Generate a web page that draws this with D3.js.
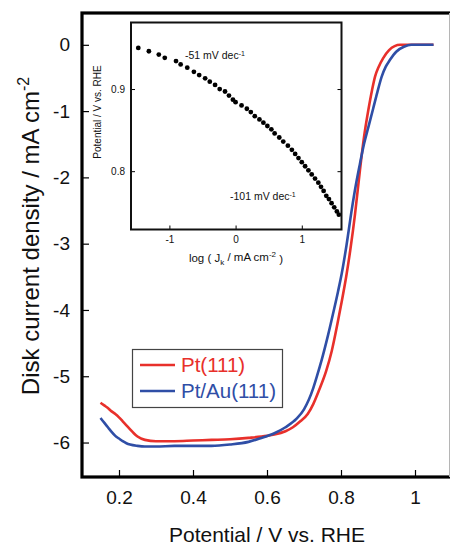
<!DOCTYPE html>
<html lang="en">
<head>
    <meta charset="UTF-8">
    <title>ORR polarization curves</title>
    <script type="text/javascript" src="https://cdn.jsdelivr.net/npm/d3@7/dist/d3.min.js"></script>
    <style type="text/css">
        body { margin: 0; background: #fff; }
        svg { display: block; font-family: "Liberation Sans", Arial, sans-serif; }
    </style>
</head>
<body>
    <script type="text/javascript">
        //Width and height
        var w = 450;
        var h = 545;

        //Pt(111) curve
        var redV = [0.15, 0.16, 0.17, 0.18, 0.19, 0.2, 0.21, 0.22, 0.23, 0.24, 0.25, 0.27, 0.3, 0.35, 0.4, 0.45,
            0.5, 0.55, 0.6, 0.62, 0.65, 0.67, 0.69, 0.71, 0.725, 0.74, 0.76, 0.775, 0.79, 0.8, 0.814, 0.825,
            0.838, 0.851, 0.862, 0.874, 0.884, 0.892, 0.902, 0.914, 0.93, 0.945, 0.96, 0.98, 1.0, 1.03, 1.05];
        var redJ = [-5.40, -5.44, -5.48, -5.53, -5.57, -5.62, -5.68, -5.74, -5.80, -5.86, -5.91, -5.96, -5.98, -5.98, -5.97, -5.96,
            -5.95, -5.93, -5.90, -5.88, -5.83, -5.77, -5.68, -5.57, -5.42, -5.22, -4.92, -4.62, -4.22, -3.93, -3.50, -3.10,
            -2.55, -1.90, -1.40, -0.98, -0.68, -0.48, -0.33, -0.20, -0.08, -0.02, 0, 0, 0, 0, 0];

        //Pt/Au(111) curve
        var blueV = [0.15, 0.16, 0.17, 0.18, 0.19, 0.2, 0.21, 0.22, 0.23, 0.25, 0.27, 0.3, 0.35, 0.4, 0.45, 0.5,
            0.55, 0.58, 0.62, 0.65, 0.68, 0.7, 0.725, 0.735, 0.748, 0.765, 0.78, 0.792, 0.802, 0.815, 0.829, 0.84,
            0.851, 0.862, 0.875, 0.887, 0.898, 0.91, 0.921, 0.932, 0.95, 0.97, 0.99, 1.01, 1.03, 1.05];
        var blueJ = [-5.63, -5.70, -5.77, -5.84, -5.90, -5.94, -5.98, -6.01, -6.03, -6.05, -6.06, -6.06, -6.05, -6.05, -6.05, -6.03,
            -5.99, -5.94, -5.86, -5.77, -5.64, -5.50, -5.18, -5.00, -4.75, -4.38, -4.02, -3.72, -3.45, -3.02, -2.49, -2.12,
            -1.80, -1.50, -1.22, -0.96, -0.72, -0.48, -0.33, -0.23, -0.10, -0.03, 0, 0, 0, 0];

        //Tafel plot (inset)
        var tafelLogJ = [-1.47, -1.31, -1.16, -1.07, -0.90, -0.83, -0.73, -0.63, -0.55, -0.46, -0.39, -0.31, -0.24,
            -0.16, -0.10, -0.04, 0.00, 0.09, 0.17, 0.23, 0.29, 0.36, 0.42, 0.48, 0.54, 0.59, 0.66, 0.72, 0.79,
            0.85, 0.90, 0.95, 1.00, 1.05, 1.10, 1.15, 1.20, 1.25, 1.29, 1.33, 1.37, 1.41, 1.45, 1.49, 1.53, 1.56];
        var tafelE = [0.950, 0.946, 0.942, 0.938, 0.934, 0.930, 0.926, 0.921, 0.917, 0.913, 0.909, 0.905, 0.900,
            0.897, 0.892, 0.887, 0.884, 0.880, 0.876, 0.872, 0.867, 0.863, 0.859, 0.855, 0.851, 0.846, 0.841, 0.836, 0.831,
            0.826, 0.821, 0.816, 0.811, 0.806, 0.801, 0.796, 0.791, 0.786, 0.781, 0.776, 0.770, 0.766, 0.761, 0.756, 0.751, 0.747];

        //Tick values
        var xTicks = [0.2, 0.4, 0.6, 0.8, 1];
        var yTicks = [0, -1, -2, -3, -4, -5, -6];
        var insetXTicks = [-1, 0, 1];
        var insetYTicks = [0.8, 0.9];

        var series = [
            { name: "Pt(111)", color: "#e8302b", v: redV, j: redJ },
            { name: "Pt/Au(111)", color: "#2f4ea6", v: blueV, j: blueJ }
        ];

        var xScale = d3.scaleLinear().domain([0.1, 1.1]).range([82, 452]);
        var yScale = d3.scaleLinear().domain([-6.52, 0.48]).range([477, 13]);

        //Create SVG element
        var svg = d3.select("body")
            .append("svg")
            .attr("width", w)
            .attr("height", h);

        //Curves
        var line = d3.line()
            .x(function(d) { return xScale(d[0]); })
            .y(function(d) { return yScale(d[1]); })
            .curve(d3.curveMonotoneX);

        svg.selectAll("path.curve")
            .data(series)
            .enter()
            .append("path")
            .attr("class", "curve")
            .attr("fill", "none")
            .attr("stroke", function(d) { return d.color; })
            .attr("stroke-width", 2.6)
            .attr("d", function(d) {
                return line(d.v.map(function(v, i) { return [v, d.j[i]]; }));
            });

        //Axes (ticks pointing inward)
        var xAxis = d3.axisBottom(xScale)
            .tickValues(xTicks)
            .tickSizeInner(-7)
            .tickSizeOuter(0)
            .tickPadding(14)
            .tickFormat(function(d) { return String(d); });

        var yAxis = d3.axisLeft(yScale)
            .tickValues(yTicks)
            .tickSizeInner(-7)
            .tickSizeOuter(0)
            .tickPadding(12)
            .tickFormat(function(d) { return String(d); });

        var gx = svg.append("g")
            .attr("transform", "translate(0," + yScale.range()[0] + ")")
            .call(xAxis);
        var gy = svg.append("g")
            .attr("transform", "translate(" + xScale.range()[0] + ",0)")
            .call(yAxis);

        [gx, gy].forEach(function(g) {
            g.select(".domain").remove();
            g.selectAll("line").attr("stroke", "#000").attr("stroke-width", 1.2);
            g.selectAll("text")
                .attr("fill", "#111")
                .style("font-family", "'Liberation Sans', Arial, sans-serif")
                .style("font-size", "19px");
        });

        //Frame
        svg.append("rect")
            .attr("x", xScale.range()[0])
            .attr("y", yScale.range()[1])
            .attr("width", xScale.range()[1] - xScale.range()[0])
            .attr("height", yScale.range()[0] - yScale.range()[1])
            .attr("fill", "none")
            .attr("stroke", "#000")
            .attr("stroke-width", 3.2);

        svg.append("line")
            .attr("x1", 449.5).attr("x2", 449.5)
            .attr("y1", yScale.range()[1]).attr("y2", yScale.range()[0])
            .attr("stroke", "#b5b5b5")
            .attr("stroke-width", 1);

        //Axis titles
        svg.append("text")
            .attr("x", 267)
            .attr("y", 542)
            .attr("text-anchor", "middle")
            .style("font-size", "21px")
            .attr("fill", "#111")
            .text("Potential / V vs. RHE");

        var yTitle = svg.append("text")
            .attr("transform", "translate(39,236) rotate(-90)")
            .attr("text-anchor", "middle")
            .style("font-size", "24px")
            .attr("fill", "#111");
        yTitle.append("tspan").text("Disk current density / mA cm");
        yTitle.append("tspan").attr("dy", "-0.6em").style("font-size", "16px").text("-2");

        //Legend
        var legend = svg.append("g");
        legend.append("rect")
            .attr("x", 132.5)
            .attr("y", 349.5)
            .attr("width", 150)
            .attr("height", 58)
            .attr("fill", "#fff")
            .attr("stroke", "#444")
            .attr("stroke-width", 1.2);

        var items = legend.selectAll("g.item")
            .data(series)
            .enter()
            .append("g")
            .attr("class", "item")
            .attr("transform", function(d, i) {
                return "translate(0," + (365 + i * 26) + ")";
            });
        items.append("line")
            .attr("x1", 140).attr("x2", 175)
            .attr("stroke", function(d) { return d.color; })
            .attr("stroke-width", 2.4);
        items.append("text")
            .attr("x", 181)
            .attr("dy", "0.36em")
            .style("font-size", "20.5px")
            .attr("fill", function(d) { return d.color; })
            .text(function(d) { return d.name; });

        //Inset
        var ix = d3.scaleLinear().domain([-1.58, 1.6]).range([131, 341.5]);
        var iy = d3.scaleLinear().domain([0.729, 0.981]).range([229.5, 22.5]);

        var inset = svg.append("g");
        inset.append("rect")
            .attr("x", ix.range()[0])
            .attr("y", iy.range()[1])
            .attr("width", ix.range()[1] - ix.range()[0])
            .attr("height", iy.range()[0] - iy.range()[1])
            .attr("fill", "#fff");

        inset.selectAll("circle")
            .data(tafelLogJ)
            .enter()
            .append("circle")
            .attr("cx", function(d) { return ix(d); })
            .attr("cy", function(d, i) { return iy(tafelE[i]); })
            .attr("r", 2.4)
            .attr("fill", "#000");

        var ixAxis = d3.axisBottom(ix).tickValues(insetXTicks).tickSizeInner(-4).tickSizeOuter(0).tickPadding(6)
            .tickFormat(function(d) { return String(d); });
        var iyAxis = d3.axisLeft(iy).tickValues(insetYTicks).tickSizeInner(-4).tickSizeOuter(0).tickPadding(6)
            .tickFormat(function(d) { return d3.format(".1f")(d); });
        var iyAxisR = d3.axisRight(iy).tickValues(insetYTicks).tickSizeInner(-4).tickSizeOuter(0)
            .tickFormat("");

        var gix = inset.append("g").attr("transform", "translate(0," + iy.range()[0] + ")").call(ixAxis);
        var giy = inset.append("g").attr("transform", "translate(" + ix.range()[0] + ",0)").call(iyAxis);
        var giyR = inset.append("g").attr("transform", "translate(" + ix.range()[1] + ",0)").call(iyAxisR);

        [gix, giy, giyR].forEach(function(g) {
            g.select(".domain").remove();
            g.selectAll("line").attr("stroke", "#000").attr("stroke-width", 1);
            g.selectAll("text")
                .attr("fill", "#111")
                .style("font-family", "'Liberation Sans', Arial, sans-serif")
                .style("font-size", "10px");
        });

        inset.append("rect")
            .attr("x", ix.range()[0])
            .attr("y", iy.range()[1])
            .attr("width", ix.range()[1] - ix.range()[0])
            .attr("height", iy.range()[0] - iy.range()[1])
            .attr("fill", "none")
            .attr("stroke", "#111")
            .attr("stroke-width", 2);

        //Inset titles
        var ixTitle = inset.append("text")
            .attr("x", 236)
            .attr("y", 262)
            .attr("text-anchor", "middle")
            .style("font-size", "11.5px")
            .attr("fill", "#111");
        ixTitle.append("tspan").text("log ( J");
        ixTitle.append("tspan").attr("dy", "0.35em").style("font-size", "8px").text("k");
        ixTitle.append("tspan").attr("dy", "-0.35em").text(" / mA cm");
        ixTitle.append("tspan").attr("dy", "-0.5em").style("font-size", "8px").text("-2");
        ixTitle.append("tspan").attr("dy", "0.5em").text(" )");

        inset.append("text")
            .attr("transform", "translate(101,112) rotate(-90)")
            .attr("text-anchor", "middle")
            .style("font-size", "10px")
            .attr("fill", "#111")
            .text("Potential / V vs. RHE");

        //Slope annotations
        var slopes = [
            { text: "-51 mV dec", x: 185, y: 59 },
            { text: "-101 mV dec", x: 230, y: 200 }
        ];
        slopes.forEach(function(s) {
            var t = inset.append("text")
                .attr("x", s.x)
                .attr("y", s.y)
                .style("font-size", "10.5px")
                .attr("fill", "#111");
            t.append("tspan").text(s.text);
            t.append("tspan").attr("dy", "-0.5em").style("font-size", "7px").text("-1");
        });
    </script>
</body>
</html>
